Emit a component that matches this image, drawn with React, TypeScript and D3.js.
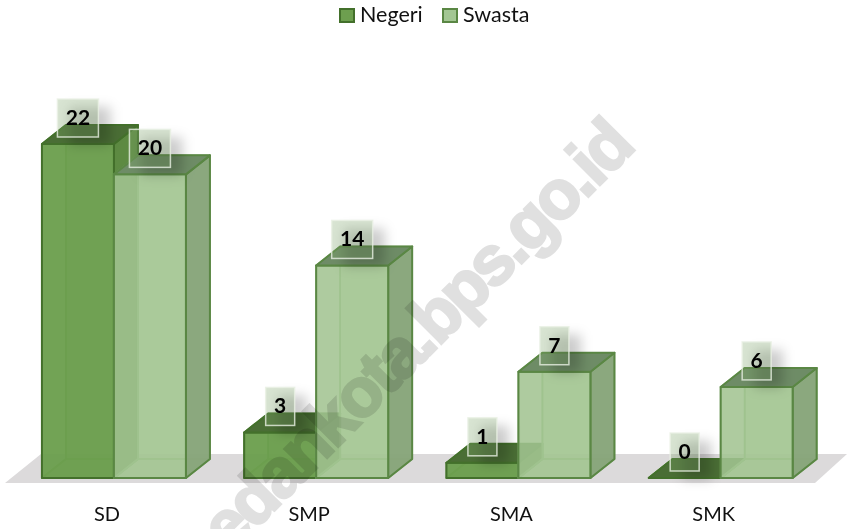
import React from "react";
import * as d3 from "d3";

const categories = ["SD", "SMP", "SMA", "SMK"];
const seriesNames = ["Negeri", "Swasta"];
const negeri = [22, 3, 1, 0];
const swasta = [20, 14, 7, 6];
const watermark = "medankota.bps.go.id";

const W = 847, H = 529;
const DX = 24, DY = -19;
const x0 = d3.scaleBand<string>().domain(categories).range([0.5, 809.5]).paddingInner(0).paddingOuter(0);
const barW = 72;
const y = d3.scaleLinear().domain([0, 22]).range([478, 144]);

const pal = [
  { front: "#6d9f4f", side: "#5d8a42", top: "#4a6e35", back: "#6d9f4f", edge: "#43702b", fo: 0.95, inner: "#5c9140" },
  { front: "#a3c693", side: "#88a67b", top: "#6e8c66", back: "#a3c693", edge: "#5a8744", fo: 0.82, inner: "#8cb47a" },
];

const pts = (a: number[][]) => a.map((p) => p.join(",")).join(" ");

function Bar({ x, v, s }: { x: number; v: number; s: number }) {
  const b = y(0), t = y(v), r = x + barW, c = pal[s];
  return (
    <g strokeLinejoin="round">
      <polygon points={pts([[x + DX, b + DY], [r + DX, b + DY], [r + DX, t + DY], [x + DX, t + DY]])} fill={c.back} fillOpacity={0.6} stroke={c.inner} strokeWidth={1.6} />
      <polygon points={pts([[x, b], [r, b], [r + DX, b + DY], [x + DX, b + DY]])} fill={c.front} fillOpacity={0.6} stroke={c.inner} strokeWidth={1.6} />
      <polygon points={pts([[x, b], [x + DX, b + DY], [x + DX, t + DY], [x, t]])} fill={c.side} fillOpacity={0.3} stroke={c.inner} strokeWidth={1.6} />
      <polygon points={pts([[r, b], [r + DX, b + DY], [r + DX, t + DY], [r, t]])} fill={c.side} fillOpacity={s === 0 ? 1 : 0.96} stroke={c.edge} strokeWidth={2} />
      {v > 0 && <polygon points={pts([[x, b], [r, b], [r, t], [x, t]])} fill={c.front} fillOpacity={c.fo} stroke={c.edge} strokeWidth={2} />}
      <polygon points={pts([[x, t], [r, t], [r + DX, t + DY], [x + DX, t + DY]])} fill={c.top} stroke={c.edge} strokeWidth={2} />
    </g>
  );
}

function Label({ cx, v }: { cx: number; v: number }) {
  const text = String(v);
  const w = text.length > 1 ? 41 : 29, h = 38;
  const cy = y(v) - 26;
  return (
    <g>
      <rect x={cx - w / 2 + 12} y={cy - h / 2 + 8} width={w} height={h} fill="#000" fillOpacity={0.2} filter="url(#blur)" />
      <rect x={cx - w / 2} y={cy - h / 2} width={w} height={h} fill="#81a86e" fillOpacity={0.31} stroke="#e8f0e3" strokeOpacity={0.8} strokeWidth={1.5} />
      <text x={cx} y={cy + 7} textAnchor="middle" fontFamily="Lato, sans-serif" fontWeight={700} fontSize={21} fill="#000">{text}</text>
    </g>
  );
}

export default function App() {
  const left = (c: string) => (x0(c) as number) + (x0.bandwidth() - 2 * barW) / 2;
  const shift = 12.3;
  return (
    <div style={{ position: "absolute", left: 0, top: 0 }}>
      <svg width={W} height={H} style={{ display: "block", background: "#fff" }}>
        <defs>
          <filter id="blur" x="-50%" y="-50%" width="200%" height="200%">
            <feGaussianBlur stdDeviation={6} />
          </filter>
        </defs>
        <polygon points={pts([[5, 483], [41, 454], [847, 454], [815, 483]])} fill="#dcdadb" />
        {categories.map((c, i) => {
          const x = left(c) + shift;
          return (
            <g key={c}>
              <Bar x={x} v={negeri[i]} s={0} />
              <Bar x={x + barW} v={swasta[i]} s={1} />
            </g>
          );
        })}
        {categories.map((c, i) => {
          const x = left(c) + shift;
          return (
            <g key={c + "-l"}>
              <Label cx={x + barW / 2} v={negeri[i]} />
              <Label cx={x + barW * 1.5} v={swasta[i]} />
              <text x={x + barW - 7} y={521} textAnchor="middle" fontFamily="Lato, sans-serif" fontSize={20} fill="#111">{c}</text>
            </g>
          );
        })}
        <g fontFamily="Lato, sans-serif" fontSize={21.5} fill="#111">
          {seriesNames.map((n, i) => {
            const lx = i === 0 ? 340 : 443;
            return (
              <g key={n}>
                <rect x={lx} y={9} width={14} height={13} fill={pal[i].front} stroke={pal[i].edge} strokeWidth={2} />
                <text x={lx + 20} y={22}>{n}</text>
              </g>
            );
          })}
        </g>
        <text
          transform="translate(188,597) rotate(-45)"
          fontFamily="Liberation Sans, sans-serif"
          fontWeight={700}
          fontSize={69}
          letterSpacing={-3}
          fill="#e0e0e0"
          stroke="#e0e0e0"
          strokeWidth={2.5}
          style={{ mixBlendMode: "multiply" }}
        >{watermark}</text>
      </svg>
    </div>
  );
}
